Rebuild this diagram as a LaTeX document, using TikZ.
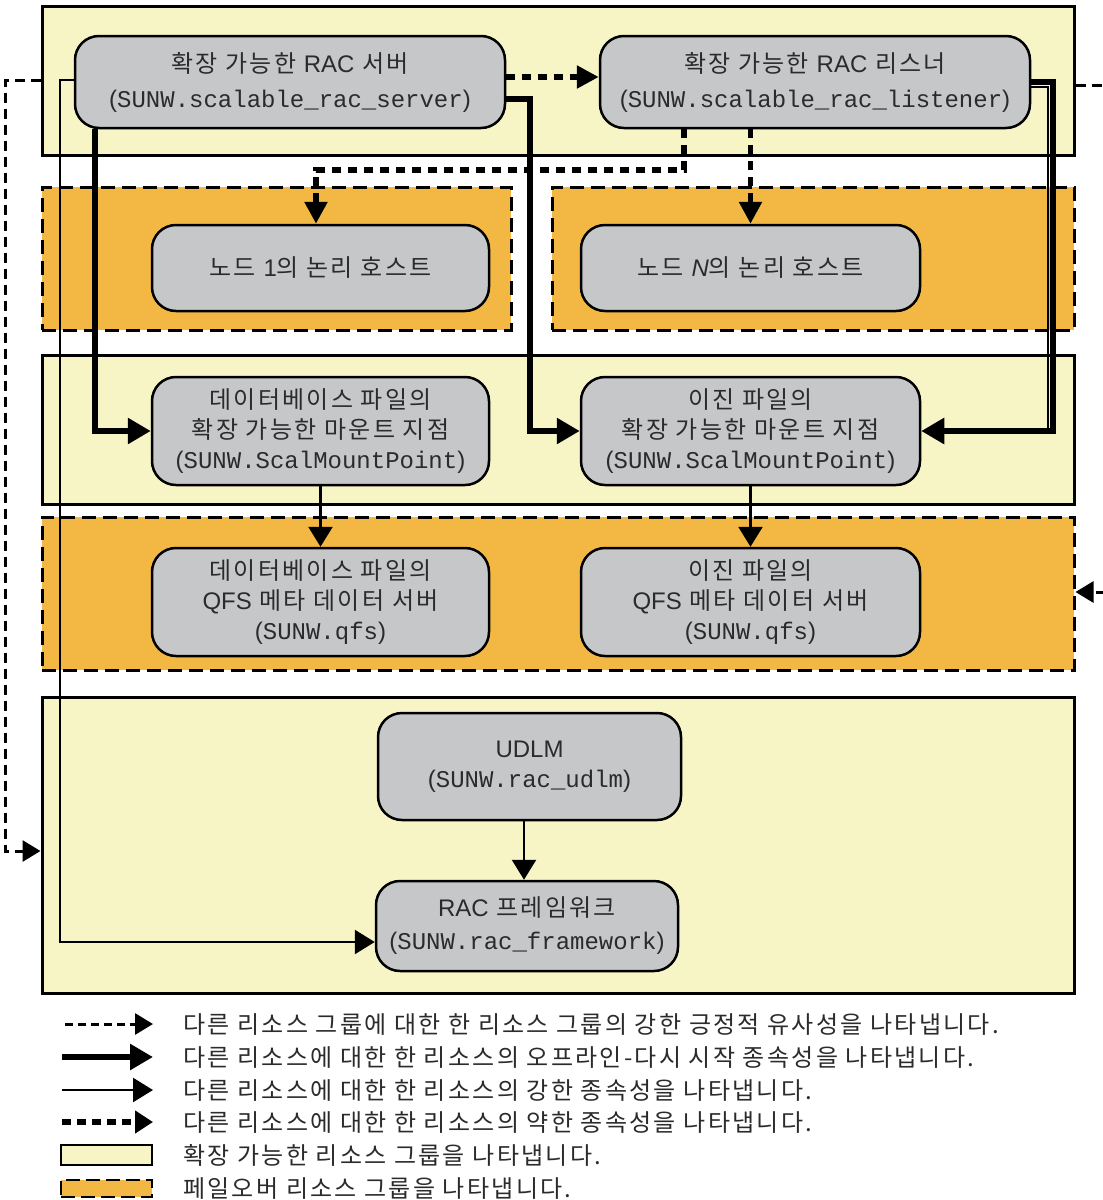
\documentclass[tikz,border=0pt]{standalone}
\usepackage{fontspec}
\setmainfont{Noto Sans CJK KR}[LetterSpace=9.5]
\newfontfamily\hv{Liberation Sans}
\setmonofont{Liberation Mono}
\usetikzlibrary{arrows.meta,calc}

\definecolor{scalfill}{HTML}{F7F5C6}
\definecolor{failfill}{HTML}{F3B843}
\definecolor{rsfill}{HTML}{C6C7C9}
\definecolor{txt}{HTML}{2B2B2B}

% resource type in parentheses
\newcommand\rtype[1]{{\hv(}\texttt{#1}{\hv)}}

\tikzset{
  scalgrp/.style={draw=black, line width=3pt, fill=scalfill, inner sep=0pt},
  failgrp/.style={draw=black, line width=3pt, fill=failfill, dash pattern=on 14pt off 7pt, inner sep=0pt},
  res/.style={draw=black, line width=2.5pt, fill=rsfill, rounded corners=24pt, inner sep=0pt,
              align=center, text=txt, font=\fontsize{24}{30}\selectfont},
  restart/.style={line width=6pt, line join=miter, -{Triangle[length=23pt,width=25pt]}},
  strongdep/.style={line width=2.5pt, -{Triangle[length=20pt,width=24pt]}},
  weakdep/.style={line width=5.5pt, dash pattern=on 9pt off 7pt, -{Triangle[length=22pt,width=22pt]}},
  affinity/.style={line width=3pt, dash pattern=on 10pt off 6pt, -{Triangle[length=18pt,width=21pt]}},
  legtext/.style={anchor=base west, inner sep=0pt, text=txt, font=\fontsize{24}{30}\selectfont},
}

\begin{document}
\begin{tikzpicture}[x=1pt,y=-1pt]
\useasboundingbox (0,0) rectangle (1103,1200);
\fill[white] (0,0) rectangle (1103,1200);
\clip (0,0) rectangle (1103,1200);

% resource groups
\node[scalgrp, minimum width=1032pt, minimum height=149pt] (g1) at (558,80.5) {};
\node[failgrp, minimum width=469pt, minimum height=143pt] (g2a) at (276.5,258.5) {};
\node[failgrp, minimum width=522pt, minimum height=143pt] (g2b) at (813,258.5) {};
\node[scalgrp, minimum width=1032pt, minimum height=149pt] (g3) at (558,429.5) {};
\node[failgrp, minimum width=1032pt, minimum height=153pt] (g4) at (558,593.5) {};
\node[scalgrp, minimum width=1032pt, minimum height=296pt] (g5) at (558,845) {};

% resources
\node[res, minimum width=430pt, minimum height=92pt] (server) at (290,82)
  {확장 가능한 {\hv RAC} 서버\\[5pt]\rtype{SUNW.scalable\_rac\_server}};
\node[res, minimum width=430pt, minimum height=92pt] (listener) at (815,82)
  {확장 가능한 {\hv RAC} 리스너\\[5pt]\rtype{SUNW.scalable\_rac\_listener}};
\node[res, minimum width=337pt, minimum height=86pt] (node1) at (320.5,268)
  {노드 {\hv 1}의 논리 호스트};
\node[res, minimum width=339pt, minimum height=86pt] (nodeN) at (750.5,268)
  {노드 {\hv\itshape N}의 논리 호스트};
\node[res, minimum width=337pt, minimum height=108pt] (mount1) at (320.5,431)
  {데이터베이스 파일의\\확장 가능한 마운트 지점\\\rtype{SUNW.ScalMountPoint}};
\node[res, minimum width=339pt, minimum height=108pt] (mount2) at (750.5,431)
  {이진 파일의\\확장 가능한 마운트 지점\\\rtype{SUNW.ScalMountPoint}};
\node[res, minimum width=337pt, minimum height=108pt] (qfs1) at (320.5,602)
  {데이터베이스 파일의\\{\hv QFS} 메타 데이터 서버\\\rtype{SUNW.qfs}};
\node[res, minimum width=339pt, minimum height=108pt] (qfs2) at (750.5,602)
  {이진 파일의\\{\hv QFS} 메타 데이터 서버\\\rtype{SUNW.qfs}};
\node[res, minimum width=303pt, minimum height=107pt] (udlm) at (529.5,766.5)
  {{\hv UDLM}\\\rtype{SUNW.rac\_udlm}};
\node[res, minimum width=302pt, minimum height=90pt] (racfw) at (527,926)
  {{\hv RAC} 프레임워크\\[3pt]\rtype{SUNW.rac\_framework}};

% weak dependencies
\draw[weakdep] (server.east |- 0,77) -- (listener.west |- 0,77);
\draw[weakdep] (listener.south -| 684,0) -- (684,170) -| (node1.north -| 316,0);
\draw[weakdep] (listener.south -| nodeN.north) -- (nodeN.north);

% offline-restart dependencies
\draw[line width=1.5pt] (listener.east |- 0,87) -- (1048,87) -- (1048,430);
\draw[restart] (server.south -| 95,0) |- (mount1.west);
\draw[restart] (server.east |- 0,99) -- (530,99) |- (mount2.west);
\draw[restart] (listener.east |- 0,82) -- (1053,82) |- (mount2.east);

% strong dependencies
\draw[strongdep] (mount1.south) -- (qfs1.north);
\draw[strongdep] (mount2.south) -- (qfs2.north);
\draw[strongdep] (udlm.south -| 524,0) -- (racfw.north -| 524,0);
\draw[strongdep] (server.west |- 0,80) -- (60,80) |- (racfw.west |- 0,942);

% strong positive affinities
\draw[affinity] (g1.west |- 0,80) -- (5,80) |- (g5.west |- 0,851);
\draw[affinity] (g1.east |- 0,85) -- (1125,85) |- (g4.east |- 0,592);

% legend
\coordinate (la1) at (65,1024);  \coordinate (lb1) at (153,1024);
\coordinate (la2) at (62,1057);  \coordinate (lb2) at (153,1057);
\coordinate (la3) at (62,1090);  \coordinate (lb3) at (153,1090);
\coordinate (la4) at (62,1122);  \coordinate (lb4) at (153,1122);
\draw[line width=3pt, dash pattern=on 8pt off 5pt, -{Triangle[length=18pt,width=21pt]}] (la1) -- (lb1);
\draw[restart] (la2) -- (lb2);
\draw[strongdep] (la3) -- (lb3);
\draw[line width=5.5pt, dash pattern=on 9pt off 6pt, -{Triangle[length=18pt,width=22pt]}] (la4) -- (lb4);
\node[draw=black, line width=2.5pt, fill=scalfill, minimum width=91pt, minimum height=20pt, inner sep=0pt] (lscal) at (106.5,1155) {};
\node[draw=black, line width=2.5pt, fill=failfill, dash pattern=on 14pt off 6pt, minimum width=91pt, minimum height=17pt, inner sep=0pt] (lfail) at (106.5,1188.5) {};

\node[legtext] (t1) at (183,1033) {다른 리소스 그룹에 대한 한 리소스 그룹의 강한 긍정적 유사성을 나타냅니다.};
\node[legtext] (t2) at (183,1066) {다른 리소스에 대한 한 리소스의 오프라인-다시 시작 종속성을 나타냅니다.};
\node[legtext] (t3) at (183,1099) {다른 리소스에 대한 한 리소스의 강한 종속성을 나타냅니다.};
\node[legtext] (t4) at (183,1131) {다른 리소스에 대한 한 리소스의 약한 종속성을 나타냅니다.};
\node[legtext] (t5) at (183,1164) {확장 가능한 리소스 그룹을 나타냅니다.};
\node[legtext] (t6) at (183,1197) {페일오버 리소스 그룹을 나타냅니다.};
\end{tikzpicture}
\end{document}
